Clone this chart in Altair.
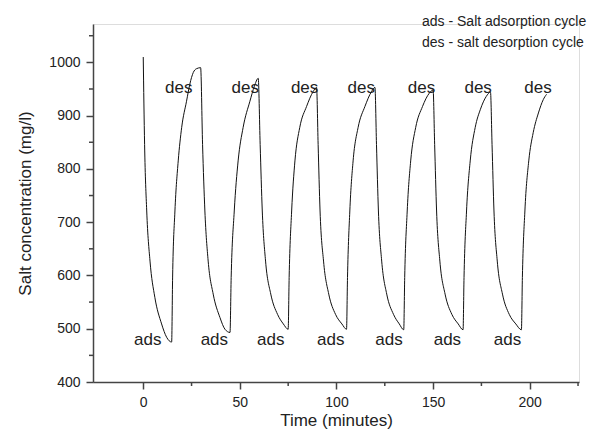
import altair as alt
import pandas as pd

# ---- data ----
time_min = [
    0, 0.7, 1.8, 3.5, 6, 9.5, 12.1, 14.7,
    15.2, 16.4, 18.1, 19.9, 22.4, 24.1, 25.9, 27.5, 29.7,
    30.7, 31.9, 33.6, 36.2, 39.7, 42.3, 44.9,
    45.5, 47.1, 49.1, 51.7, 55.2, 57.5, 59.5,
    60.5, 61.6, 63.3, 66, 69.5, 72.5, 75,
    75.5, 76.8, 78.5, 81, 84.5, 87.9, 89.7,
    90.5, 91.5, 93.3, 96, 99.5, 102.8, 105.2,
    105.7, 106.9, 108.6, 111.2, 114.7, 118.1, 119.9,
    120.7, 121.7, 123.4, 126, 129.5, 132.5, 134.8,
    135.3, 136.6, 138.4, 141, 144.5, 148, 150,
    150.8, 151.8, 153.5, 156.2, 159.7, 163, 165.5,
    166, 167.3, 169.2, 171.8, 174.5, 177.5, 179.7,
    180.5, 181.5, 183.2, 185.9, 189.4, 192.8, 195.7,
    196.2, 197.5, 199.5, 201.8, 204.5, 207, 208.7,
]
conc = [
    1010, 846, 721, 627, 559, 509, 484, 475,
    597, 721, 815, 878, 927, 959, 981, 988, 990,
    846, 721, 627, 565, 521, 499, 493,
    596, 721, 815, 878, 927, 955, 970,
    846, 721, 627, 565, 527, 509, 499,
    596, 721, 815, 878, 917, 945, 953,
    846, 721, 627, 565, 527, 509, 499,
    596, 721, 815, 878, 917, 945, 953,
    846, 721, 627, 565, 527, 509, 498,
    596, 721, 815, 878, 917, 942, 948,
    846, 721, 627, 565, 527, 509, 498,
    596, 721, 815, 878, 912, 936, 944,
    846, 721, 627, 565, 527, 509, 498,
    596, 721, 815, 868, 905, 930, 940,
]
ads_x = [2.3, 36.8, 66.0, 97.0, 127.2, 157.4, 188.5]
ads_y = [479] * 7
des_x = [18.4, 52.8, 83.5, 112.8, 144.0, 173.3, 204.3]
des_y = [952] * 7

x_major = [0, 50, 100, 150, 200]
x_minor = [25, 75, 125, 175, 225]
y_major = [400, 500, 600, 700, 800, 900, 1000]
y_minor = [450, 550, 650, 750, 850, 950, 1050]

legend_lines = ["ads - Salt adsorption cycle", "des - salt desorption cycle"]

FONT = "Liberation Sans"
W, H = 486, 358
AX = "#444444"
TXT = "#222222"

xscale = alt.Scale(domain=[-26, 225.5], nice=False, zero=False)
yscale = alt.Scale(domain=[400, 1072], nice=False, zero=False)

df = pd.DataFrame({"t": time_min, "c": conc})
ads_df = pd.DataFrame({"t": ads_x, "c": ads_y, "lab": ["ads"] * len(ads_x)})
des_df = pd.DataFrame({"t": des_x, "c": des_y, "lab": ["des"] * len(des_x)})
xmin_df = pd.DataFrame({"t": x_minor})
ymin_df = pd.DataFrame({"c": y_minor})

curve = alt.Chart(df).mark_line(
    color="#111111", strokeWidth=1, interpolate="monotone"
).encode(
    x=alt.X("t:Q", scale=xscale,
            axis=alt.Axis(values=x_major, title="Time (minutes)", grid=False, format="d",
                          domainColor=AX, domainWidth=1.5, tickColor=AX, tickWidth=1.5,
                          tickSize=7, labelFontSize=14, labelColor=TXT, labelFont=FONT,
                          labelPadding=6, titleFontSize=17, titleFont=FONT,
                          titleFontWeight="normal", titleColor=TXT, titlePadding=3)),
    y=alt.Y("c:Q", scale=yscale,
            axis=alt.Axis(values=y_major, title="Salt concentration (mg/l)", grid=False,
                          format="d",
                          domainColor=AX, domainWidth=1.5, tickColor=AX, tickWidth=1.5,
                          tickSize=7, labelFontSize=14, labelColor=TXT, labelFont=FONT,
                          labelPadding=6, titleFontSize=17, titleFont=FONT,
                          titleFontWeight="normal", titleColor=TXT, titlePadding=14)),
)

xminor = alt.Chart(xmin_df).mark_rule(color=AX, strokeWidth=1.5).encode(
    x=alt.X("t:Q", scale=xscale), y=alt.value(H), y2=alt.value(H + 4)
)
yminor = alt.Chart(ymin_df).mark_rule(color=AX, strokeWidth=1.5).encode(
    y=alt.Y("c:Q", scale=yscale), x=alt.value(0), x2=alt.value(-4)
)

ads_text = alt.Chart(ads_df).mark_text(
    fontSize=17, font=FONT, color=TXT, align="center", baseline="middle"
).encode(x=alt.X("t:Q", scale=xscale), y=alt.Y("c:Q", scale=yscale), text="lab:N")
des_text = alt.Chart(des_df).mark_text(
    fontSize=17, font=FONT, color=TXT, align="center", baseline="middle"
).encode(x=alt.X("t:Q", scale=xscale), y=alt.Y("c:Q", scale=yscale), text="lab:N")

leg1 = alt.Chart(pd.DataFrame({"s": [legend_lines[0]]})).mark_text(
    fontSize=14, font=FONT, color=TXT, align="left", baseline="middle"
).encode(x=alt.value(329), y=alt.value(-2), text="s:N")
leg2 = alt.Chart(pd.DataFrame({"s": [legend_lines[1]]})).mark_text(
    fontSize=14, font=FONT, color=TXT, align="left", baseline="middle"
).encode(x=alt.value(329), y=alt.value(19), text="s:N")

chart = alt.layer(curve, xminor, yminor, ads_text, des_text, leg1, leg2).properties(
    width=W, height=H,
    autosize=alt.AutoSizeParams(type="none"),
    padding={"left": 85, "top": 16, "right": 8, "bottom": 50},
).configure_view(stroke=None).configure(background="white")

chart.save("out.html", embed_options={"renderer": "svg", "actions": False})
